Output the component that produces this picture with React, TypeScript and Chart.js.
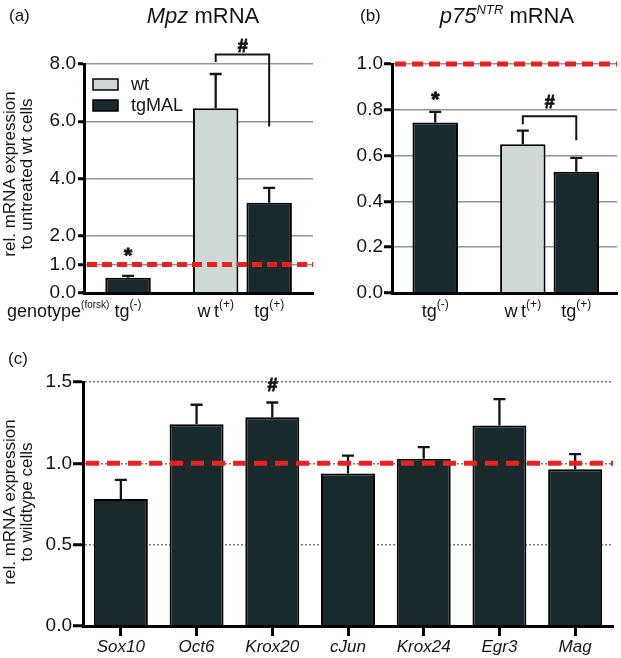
import { useEffect, useRef } from "react";
import { Chart, registerables } from "chart.js";

Chart.register(...registerables);

const FONT = "'Liberation Sans', Arial, Helvetica, sans-serif";
const INK = "#141414";
const WT_FILL = "#cfd8d6";
const TG_FILL = "#182a2c";
const RED = "#e8231f";
const GRID_AB = "#8b9898";
const GRID_C = "#6f7a7a";

// ---------------- data ----------------
const seriesNames = ["wt", "tgMAL"];
const genotypeShort = ["w\u2009t", "tg"];
const forskolinGroups = ["(-)", "(+)"];
const referenceLevel = 1.0;

// (a) Mpz mRNA
const mpzWt = [null, 6.45];
const mpzWtSem = [null, 1.2];
const mpzTg = [0.53, 3.15];
const mpzTgSem = [0.07, 0.52];
const mpzTicks = [0, 1, 2, 4, 6, 8];

// (b) p75NTR mRNA
const p75Wt = [null, 0.65];
const p75WtSem = [null, 0.059];
const p75Tg = [0.744, 0.53];
const p75TgSem = [0.047, 0.06];
const p75Ticks = [0, 0.2, 0.4, 0.6, 0.8, 1.0];

// (c) genes
const genes = ["Sox10", "Oct6", "Krox20", "cJun", "Krox24", "Egr3", "Mag"];
const geneExpr = [0.78, 1.241, 1.284, 0.937, 1.028, 1.233, 0.964];
const geneSem = [0.118, 0.119, 0.09, 0.111, 0.072, 0.162, 0.093];
const geneTicks = [0, 0.5, 1.0, 1.5];

// significance annotations (value units)
const mpzMarks = { star: { dataset: 1, index: 0, level: 1.51 }, bracket: { level: 8.33, leftEnd: 8.07, rightEnd: 5.82, hashLevel: 8.63 } };
const p75Marks = { star: { dataset: 1, index: 0, level: 0.873 }, bracket: { level: 0.772, leftEnd: 0.737, rightEnd: 0.667, hashLevel: 0.835 } };
const geneMarks = { hash: { index: 2, level: 1.483 } };

type Part = { text: string; font: string; dy: number };

function drawParts(ctx: CanvasRenderingContext2D, x: number, baseline: number, parts: Part[], align: "center" | "left") {
  ctx.textAlign = "left";
  ctx.textBaseline = "alphabetic";
  let total = 0;
  const widths = parts.map((p) => {
    ctx.font = p.font;
    const w = ctx.measureText(p.text).width;
    total += w;
    return w;
  });
  let cx = align === "center" ? x - total / 2 : x;
  parts.forEach((p, i) => {
    ctx.font = p.font;
    ctx.fillText(p.text, cx, baseline + p.dy);
    cx += widths[i];
  });
}

function drawMark(ctx: CanvasRenderingContext2D, ch: string, cx: number, cy: number) {
  const size = ch === "*" ? 21 : 18;
  ctx.font = ch === "*" ? `bold ${size}px ${FONT}` : `italic bold ${size}px ${FONT}`;
  ctx.textAlign = "center";
  ctx.textBaseline = "alphabetic";
  const off = ch === "*" ? 0.6 * size : 0.36 * size;
  ctx.fillText(ch, cx, cy + off);
  ctx.lineWidth = 0.9;
  ctx.setLineDash([]);
  ctx.strokeText(ch, cx, cy + off);
}

function drawYTitle(ctx: CanvasRenderingContext2D, lines: string[], cx: number, cy: number, gap: number) {
  ctx.save();
  ctx.translate(cx, cy);
  ctx.rotate(-Math.PI / 2);
  ctx.font = `17px ${FONT}`;
  ctx.textAlign = "center";
  ctx.textBaseline = "middle";
  ctx.fillStyle = INK;
  lines.forEach((l, i) => ctx.fillText(l, 0, (i - (lines.length - 1) / 2) * gap));
  ctx.restore();
}

function valueOf(raw: any): number | null {
  if (raw == null) return null;
  if (typeof raw === "number") return raw;
  return raw.y == null ? null : raw.y;
}

function makeDecor(p: any) {
  return {
    id: "decor",
    afterDatasetsDraw(chart: any) {
      const ctx: CanvasRenderingContext2D = chart.ctx;
      const ys = chart.scales.y;
      const area = chart.chartArea;
      ctx.save();
      ctx.fillStyle = INK;
      ctx.strokeStyle = INK;
      // error bars
      chart.data.datasets.forEach((ds: any, di: number) => {
        const meta = chart.getDatasetMeta(di);
        meta.data.forEach((el: any, i: number) => {
          const v = valueOf(ds.data[i]);
          const e = p.errs[di][i];
          if (v == null || e == null) return;
          const yTop = ys.getPixelForValue(v + e);
          ctx.lineWidth = 2.3;
          ctx.setLineDash([]);
          ctx.beginPath();
          ctx.moveTo(el.x, el.y);
          ctx.lineTo(el.x, yTop);
          ctx.moveTo(el.x - p.cap, yTop);
          ctx.lineTo(el.x + p.cap, yTop);
          ctx.stroke();
        });
      });
      // reference line
      const ry = ys.getPixelForValue(referenceLevel);
      ctx.save();
      ctx.strokeStyle = RED;
      ctx.lineWidth = 5;
      ctx.setLineDash(p.redDash);
      ctx.beginPath();
      ctx.moveTo(area.left + 3, ry);
      ctx.lineTo(area.right, ry);
      ctx.stroke();
      ctx.restore();

      // marks
      if (p.marks && p.marks.star) {
        const s = p.marks.star;
        const el = chart.getDatasetMeta(s.dataset).data[s.index];
        drawMark(ctx, "*", el.x, ys.getPixelForValue(s.level));
      }
      if (p.marks && p.marks.bracket) {
        const b = p.marks.bracket;
        const l = chart.getDatasetMeta(0).data[1];
        const r = chart.getDatasetMeta(1).data[1];
        const yb = ys.getPixelForValue(b.level);
        ctx.lineWidth = 2;
        ctx.setLineDash([]);
        ctx.beginPath();
        ctx.moveTo(l.x, ys.getPixelForValue(b.leftEnd));
        ctx.lineTo(l.x, yb);
        ctx.lineTo(r.x, yb);
        ctx.lineTo(r.x, ys.getPixelForValue(b.rightEnd));
        ctx.stroke();
        drawMark(ctx, "#", (l.x + r.x) / 2, ys.getPixelForValue(b.hashLevel));
      }
      if (p.marks && p.marks.hash) {
        const h = p.marks.hash;
        const el = chart.getDatasetMeta(0).data[h.index];
        drawMark(ctx, "#", el.x, ys.getPixelForValue(h.level));
      }

      // bar labels for a/b
      if (p.barLabels) {
        const base = area.bottom + 24;
        chart.data.datasets.forEach((ds: any, di: number) => {
          const meta = chart.getDatasetMeta(di);
          meta.data.forEach((el: any, i: number) => {
            if (valueOf(ds.data[i]) == null) return;
            drawParts(ctx, el.x, base, [
              { text: genotypeShort[di], font: `18px ${FONT}`, dy: 0 },
              { text: forskolinGroups[i], font: `12px ${FONT}`, dy: -9 },
            ], "center");
          });
        });
        if (p.genotypeRow) {
          drawParts(ctx, 7, base, [
            { text: "genotype", font: `18px ${FONT}`, dy: 0 },
            { text: "(forsk)", font: `10px ${FONT}`, dy: -9 },
          ], "left");
        }
      }

      // legend
      if (p.legend) {
        const rows = [WT_FILL, TG_FILL];
        rows.forEach((fill, i) => {
          const bx = area.left + 9;
          const by = area.top + 15 + i * 21;
          ctx.fillStyle = fill;
          ctx.fillRect(bx, by, 25, 11);
          ctx.lineWidth = 1.5;
          ctx.strokeStyle = "#000";
          ctx.strokeRect(bx, by, 25, 11);
          ctx.fillStyle = INK;
          ctx.font = `18px ${FONT}`;
          ctx.textAlign = "left";
          ctx.textBaseline = "middle";
          ctx.fillText(seriesNames[i], area.left + 47, by + 6);
        });
      }

      // titles
      ctx.fillStyle = INK;
      if (p.letter) {
        ctx.font = `17px ${FONT}`;
        ctx.textAlign = "left";
        ctx.textBaseline = "alphabetic";
        ctx.fillText(p.letter.text, p.letter.x, p.letter.y);
      }
      if (p.title) {
        drawParts(ctx, p.title.x, p.title.y, p.title.parts, "center");
      }
      if (p.yTitle) {
        drawYTitle(ctx, p.yTitle.lines, p.yTitle.x, p.yTitle.y, 17.5);
      }
      ctx.restore();
    },
  };
}

function yAxis(ticks: number[], max: number, width: number, tickLen: number, pad: number, gridColor: string, dash: number[]) {
  return {
    type: "linear",
    min: 0,
    max,
    afterBuildTicks: (s: any) => {
      s.ticks = ticks.map((v) => ({ value: v }));
    },
    afterFit: (s: any) => {
      s.width = width;
    },
    ticks: {
      callback: (v: any) => Number(v).toFixed(1),
      color: INK,
      font: { family: FONT, size: 19 },
      padding: pad,
    },
    grid: {
      color: (c: any) => (c.tick && c.tick.value === 0 ? "rgba(0,0,0,0)" : gridColor),
      lineWidth: 1.5,
      tickColor: "#000",
      tickWidth: 3,
      tickLength: tickLen,
      drawTicks: true,
    },
    border: { color: "#000", width: 3, dash },
  };
}

function makeAB(canvas: HTMLCanvasElement, cfg: any) {
  const barOpts = {
    borderColor: "#000",
    borderWidth: 2,
    borderSkipped: "start",
    skipNull: true,
    categoryPercentage: 0.935,
    barPercentage: 0.85,
    maxBarThickness: 45.5,
  };
  return new Chart(canvas, {
    type: "bar",
    data: {
      datasets: [
        { label: seriesNames[0], data: cfg.wt.map((v: any, i: number) => ({ x: i, y: v })), backgroundColor: WT_FILL, ...barOpts },
        { label: seriesNames[1], data: cfg.tg.map((v: any, i: number) => ({ x: i, y: v })), backgroundColor: TG_FILL, ...barOpts },
      ],
    } as any,
    options: {
      responsive: false,
      animation: false,
      layout: { padding: { top: 64, right: cfg.padRight, left: 0, bottom: 0 } },
      plugins: { legend: { display: false }, tooltip: { enabled: false }, title: { display: false } },
      scales: {
        x: {
          type: "linear",
          min: cfg.xMin,
          max: cfg.xMax,
          offset: false,
          afterBuildTicks: (s: any) => {
            s.ticks = forskolinGroups.map((_, i) => ({ value: i }));
          },
          afterFit: (s: any) => {
            s.height = 37;
          },
          ticks: { display: false },
          grid: { display: false, offset: false },
          border: { color: "#000", width: 3 },
        },
        y: yAxis(cfg.ticks, cfg.yMax, cfg.yWidth, cfg.tickLen, cfg.tickPad, GRID_AB, []),
      } as any,
    } as any,
    plugins: [makeDecor(cfg.decor)],
  });
}

function makeC(canvas: HTMLCanvasElement) {
  return new Chart(canvas, {
    type: "bar",
    data: {
      labels: genes,
      datasets: [
        {
          label: "tgMAL",
          data: geneExpr,
          backgroundColor: TG_FILL,
          borderColor: "#000",
          borderWidth: 2,
          borderSkipped: "start",
          categoryPercentage: 1,
          barPercentage: 0.713,
        },
      ],
    } as any,
    options: {
      responsive: false,
      animation: false,
      layout: { padding: { top: 52, right: 8, left: 0, bottom: 0 } },
      plugins: { legend: { display: false }, tooltip: { enabled: false } },
      scales: {
        x: {
          type: "category",
          offset: true,
          afterFit: (s: any) => {
            s.height = 32;
          },
          ticks: {
            color: INK,
            font: { family: FONT, size: 17, style: "italic" },
            padding: 1,
            autoSkip: false,
            maxRotation: 0,
          },
          grid: {
            display: true,
            offset: false,
            drawOnChartArea: false,
            drawTicks: true,
            tickLength: 10,
            tickWidth: 3,
            tickColor: "#000",
            color: "rgba(0,0,0,0)",
          },
          border: { color: "#000", width: 3 },
        },
        y: yAxis(geneTicks, 1.5, 83, 10, 1, GRID_C, [2, 2]),
      } as any,
    } as any,
    plugins: [
      makeDecor({
        errs: [geneSem],
        cap: 6,
        redDash: [13, 8],
        marks: geneMarks,
        letter: { text: "(c)", x: 8, y: 34 },
        yTitle: { lines: ["rel. mRNA expression", "to wildtype cells"], x: 19, y: 172 },
      }),
    ],
  });
}

export default function App() {
  const refA = useRef<HTMLCanvasElement>(null);
  const refB = useRef<HTMLCanvasElement>(null);
  const refC = useRef<HTMLCanvasElement>(null);

  useEffect(() => {
    const charts: Chart[] = [];
    if (refA.current) {
      charts.push(
        makeAB(refA.current, {
          wt: mpzWt,
          tg: mpzTg,
          ticks: mpzTicks,
          yMax: 8,
          xMin: -0.385,
          xMax: 1.617,
          yWidth: 84,
          padRight: 7,
          tickLen: 6,
          tickPad: 2,
          decor: {
            errs: [mpzWtSem, mpzTgSem],
            cap: 6,
            redDash: [10, 5],
            marks: mpzMarks,
            barLabels: true,
            genotypeRow: true,
            legend: true,
            letter: { text: "(a)", x: 9, y: 21 },
            title: {
              x: 203,
              y: 23,
              parts: [
                { text: "Mpz", font: `italic 22px ${FONT}`, dy: 0 },
                { text: " mRNA", font: `22px ${FONT}`, dy: 0 },
              ],
            },
            yTitle: { lines: ["rel. mRNA expression", "to untreated wt cells"], x: 19, y: 174 },
          },
        })
      );
    }
    if (refB.current) {
      charts.push(
        makeAB(refB.current, {
          wt: p75Wt,
          tg: p75Tg,
          ticks: p75Ticks,
          yMax: 1.0,
          xMin: -0.378,
          xMax: 1.59,
          yWidth: 72,
          padRight: 4,
          tickLen: 8,
          tickPad: 1,
          decor: {
            errs: [p75WtSem, p75TgSem],
            cap: 6,
            redDash: [11, 6],
            marks: p75Marks,
            barLabels: true,
            genotypeRow: false,
            legend: false,
            letter: { text: "(b)", x: 40, y: 21 },
            title: {
              x: 187,
              y: 23,
              parts: [
                { text: "p75", font: `italic 22px ${FONT}`, dy: 0 },
                { text: "NTR", font: `italic 13px ${FONT}`, dy: -9 },
                { text: " mRNA", font: `22px ${FONT}`, dy: 0 },
              ],
            },
          },
        })
      );
    }
    if (refC.current) charts.push(makeC(refC.current));
    return () => charts.forEach((c) => c.destroy());
  }, []);

  return (
    <div style={{ position: "absolute", left: 0, top: 0, width: 621, height: 658, background: "#fff" }}>
      <canvas ref={refA} width={320} height={330} style={{ position: "absolute", left: 0, top: 0 }} />
      <canvas ref={refB} width={301} height={330} style={{ position: "absolute", left: 320, top: 0 }} />
      <canvas ref={refC} width={621} height={328} style={{ position: "absolute", left: 0, top: 330 }} />
    </div>
  );
}
